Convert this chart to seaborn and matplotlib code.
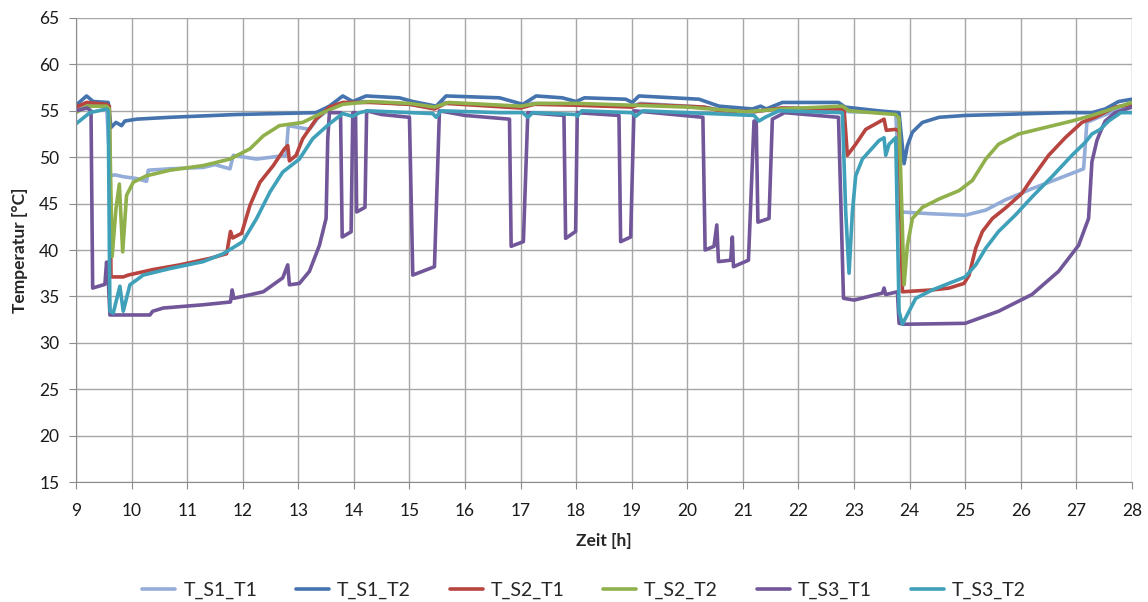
import pandas as pd
import numpy as np
import seaborn as sns
import matplotlib.pyplot as plt

s1_t1 = [(9.0, 55.2), (9.2, 55.8), (9.55, 55.6), (9.62, 48.0), (9.7, 48.1), (9.85, 47.9),
         (10.09, 47.7), (10.27, 47.4), (10.3, 48.6), (10.69, 48.75), (11.29, 48.9), (11.5, 49.2),
         (11.77, 48.75), (11.83, 50.2), (12.25, 49.8), (12.78, 50.2), (12.82, 53.4), (13.2, 53.0),
         (13.35, 54.2), (13.56, 55.2), (13.8, 55.8), (14.2, 56.0), (15.0, 55.7), (15.45, 55.3),
         (15.6, 55.9), (17.0, 55.4), (17.2, 55.8), (18.0, 55.7), (19.0, 55.5), (19.15, 55.8),
         (20.3, 55.4), (20.6, 55.1), (21.2, 54.9), (21.7, 55.3), (22.8, 55.1), (22.9, 54.9),
         (23.75, 54.8), (23.84, 44.1), (24.41, 43.9), (25.0, 43.75), (25.37, 44.3), (25.72, 45.4),
         (26.2, 46.6), (26.68, 47.7), (27.13, 48.75), (27.19, 53.75), (27.4, 54.3), (27.7, 55.0),
         (28.0, 55.6)]

s1_t2 = [(9.0, 55.6), (9.19, 56.6), (9.31, 56.0), (9.58, 55.9), (9.63, 53.2), (9.72, 53.75),
         (9.82, 53.4), (9.88, 53.9), (10.09, 54.1), (10.69, 54.3), (11.89, 54.6), (13.32, 54.8),
         (13.56, 55.5), (13.8, 56.6), (13.98, 56.0), (14.22, 56.6), (14.82, 56.4), (15.06, 56.0),
         (15.48, 55.5), (15.66, 56.6), (16.62, 56.4), (17.04, 55.7), (17.28, 56.6), (17.75, 56.4),
         (18.0, 56.0), (18.15, 56.4), (18.89, 56.25), (19.01, 55.9), (19.13, 56.6), (20.21, 56.25),
         (20.57, 55.5), (21.17, 55.2), (21.32, 55.5), (21.42, 55.2), (21.71, 55.9), (22.72, 55.9),
         (22.84, 55.4), (23.44, 55.0), (23.81, 54.8), (23.9, 49.3), (23.96, 51.25), (24.05, 52.7),
         (24.23, 53.75), (24.53, 54.3), (25.0, 54.5), (26.8, 54.8), (27.28, 54.8), (27.52, 55.2),
         (27.76, 56.0), (28.0, 56.25)]

s2_t1 = [(9.0, 55.4), (9.19, 55.9), (9.55, 55.7), (9.6, 55.5), (9.63, 37.1), (9.85, 37.1),
         (9.94, 37.3), (10.39, 37.9), (10.87, 38.4), (11.41, 39.1), (11.71, 39.6), (11.78, 42.0),
         (11.82, 41.3), (11.98, 41.8), (12.13, 44.8), (12.31, 47.3), (12.55, 49.1), (12.75, 50.9),
         (12.81, 51.25), (12.84, 49.6), (12.96, 50.2), (13.08, 52.0), (13.32, 54.1), (13.56, 55.4),
         (13.8, 55.9), (14.3, 55.9), (15.0, 55.7), (15.45, 55.2), (15.65, 55.8), (17.0, 55.3),
         (17.25, 55.7), (18.0, 55.6), (19.0, 55.4), (19.15, 55.7), (20.3, 55.4), (20.6, 55.0),
         (21.2, 54.9), (21.7, 55.3), (22.82, 55.2), (22.88, 50.2), (23.03, 51.4), (23.21, 53.0),
         (23.54, 54.1), (23.58, 52.9), (23.75, 53.0), (23.81, 52.8), (23.87, 35.5), (24.41, 35.7),
         (24.71, 35.9), (24.98, 36.4), (25.07, 37.3), (25.19, 40.2), (25.31, 42.0), (25.49, 43.4),
         (25.72, 44.5), (26.02, 46.1), (26.2, 47.7), (26.5, 50.2), (26.8, 52.1), (27.1, 53.75),
         (27.34, 54.3), (27.7, 55.4), (28.0, 55.7)]

s2_t2 = [(9.0, 54.8), (9.19, 55.5), (9.55, 55.5), (9.6, 55.2), (9.65, 39.3), (9.72, 44.5),
         (9.78, 47.1), (9.84, 39.8), (9.91, 45.9), (10.03, 47.3), (10.27, 48.0), (10.69, 48.6),
         (11.29, 49.1), (11.77, 49.8), (12.13, 50.9), (12.37, 52.3), (12.66, 53.4), (13.08, 53.75),
         (13.44, 54.8), (13.8, 55.7), (14.3, 56.0), (15.0, 55.8), (15.45, 55.4), (15.7, 55.9),
         (17.0, 55.5), (17.3, 55.8), (18.0, 55.8), (19.0, 55.6), (20.0, 55.4), (21.05, 54.9),
         (21.7, 55.2), (22.79, 55.5), (22.91, 55.0), (23.75, 54.6), (23.81, 54.2), (23.9, 36.25),
         (23.96, 40.5), (24.05, 43.4), (24.23, 44.6), (24.53, 45.5), (24.89, 46.4), (25.13, 47.5),
         (25.37, 49.8), (25.6, 51.4), (25.96, 52.5), (26.44, 53.2), (26.92, 53.9), (27.28, 54.5),
         (27.64, 55.2), (28.0, 55.9)]

s3_t1 = [(9.0, 55.0), (9.2, 55.3), (9.27, 55.0), (9.3, 35.9), (9.52, 36.3), (9.55, 38.7),
         (9.58, 37.0), (9.61, 33.0), (10.33, 33.0), (10.38, 33.4), (10.57, 33.75), (11.29, 34.1),
         (11.78, 34.4), (11.81, 35.7), (11.84, 34.8), (12.0, 35.0), (12.37, 35.5), (12.72, 37.0),
         (12.81, 38.4), (12.84, 36.25), (13.02, 36.4), (13.2, 37.7), (13.38, 40.5), (13.5, 43.4),
         (13.53, 52.0), (13.56, 54.8), (13.76, 54.8), (13.79, 41.4), (13.95, 41.96), (13.98, 54.8),
         (14.03, 54.8), (14.05, 44.1), (14.2, 44.6), (14.23, 55.0), (14.5, 54.6), (15.0, 54.3),
         (15.06, 37.3), (15.45, 38.2), (15.54, 55.0), (16.0, 54.5), (16.8, 54.1), (16.83, 40.4),
         (17.05, 40.9), (17.13, 54.8), (17.78, 54.5), (17.81, 41.25), (17.99, 42.0), (18.02, 54.8),
         (18.77, 54.5), (18.8, 40.9), (18.98, 41.4), (19.04, 55.0), (20.28, 54.3), (20.32, 40.0),
         (20.48, 40.4), (20.53, 42.7), (20.56, 38.75), (20.78, 38.9), (20.81, 41.4), (20.83, 38.2),
         (21.1, 38.9), (21.2, 53.9), (21.24, 53.9), (21.27, 43.0), (21.47, 43.4), (21.53, 54.1),
         (21.75, 54.8), (22.72, 54.3), (22.81, 34.8), (23.0, 34.6), (23.51, 35.36), (23.54, 35.9),
         (23.57, 35.2), (23.78, 35.5), (23.81, 32.1), (23.9, 32.0), (25.0, 32.1), (25.6, 33.4),
         (26.2, 35.2), (26.68, 37.7), (27.04, 40.5), (27.22, 43.4), (27.28, 49.5), (27.37, 51.8),
         (27.43, 52.7), (27.52, 53.9), (27.7, 54.8), (28.0, 55.4)]

s3_t2 = [(9.0, 53.6), (9.25, 54.8), (9.55, 55.2), (9.58, 55.0), (9.61, 33.4), (9.67, 33.2),
         (9.79, 36.1), (9.85, 33.4), (9.97, 36.25), (10.21, 37.3), (10.69, 38.0), (11.29, 38.75),
         (11.65, 39.6), (12.0, 40.9), (12.25, 43.4), (12.49, 46.25), (12.72, 48.4), (13.02, 49.8),
         (13.26, 52.0), (13.56, 53.6), (13.8, 54.7), (13.98, 54.4), (14.1, 54.8), (14.25, 55.0),
         (15.42, 54.7), (15.48, 54.3), (15.57, 55.0), (16.62, 54.8), (17.04, 54.8), (17.13, 54.3),
         (17.22, 54.8), (18.0, 54.6), (18.02, 54.4), (18.1, 55.0), (19.0, 54.8), (19.07, 54.4),
         (19.2, 55.0), (20.8, 54.6), (21.2, 54.5), (21.29, 53.9), (21.4, 54.3), (21.65, 55.0),
         (22.79, 54.8), (22.85, 44.1), (22.91, 37.5), (22.97, 44.1), (23.03, 48.0), (23.15, 49.8),
         (23.45, 51.8), (23.54, 52.1), (23.57, 50.2), (23.63, 51.4), (23.75, 52.1), (23.81, 33.4),
         (23.87, 32.0), (23.99, 33.4), (24.11, 34.8), (24.41, 35.7), (25.0, 37.1), (25.19, 38.4),
         (25.37, 40.2), (25.6, 42.0), (25.9, 43.75), (26.2, 45.7), (26.56, 47.9), (26.92, 50.2),
         (27.16, 51.6), (27.28, 52.5), (27.43, 53.0), (27.58, 53.9), (27.8, 54.8), (28.0, 54.8)]

series_names = ['T_S1_T1', 'T_S1_T2', 'T_S2_T1', 'T_S2_T2', 'T_S3_T1', 'T_S3_T2']
colors = ['#93ADD8', '#4573AE', '#B8443F', '#8FB04B', '#71579A', '#3FA0BA']
x_ticks = list(range(9, 29))
y_ticks = list(range(15, 70, 5))

# --- Tabelle im Langformat ---
frames = []
for name, pts in zip(series_names, [s1_t1, s1_t2, s2_t1, s2_t2, s3_t1, s3_t2]):
    d = pd.DataFrame(pts, columns=['Zeit', 'Temperatur'])
    d['Sensor'] = name
    frames.append(d)
df = pd.concat(frames, ignore_index=True)

sns.set_style('white')
plt.rcParams['font.family'] = ['Lato', 'DejaVu Sans']

fig = plt.figure(figsize=(11.48, 6.02), dpi=100)
ax = fig.add_axes([0.0662, 0.1993, 0.9198, 0.7708])

sns.lineplot(data=df, x='Zeit', y='Temperatur', hue='Sensor', hue_order=series_names,
             palette=colors, estimator=None, sort=False, linewidth=2.6, ax=ax)

ax.set_xlim(9, 28)
ax.set_ylim(15, 65)
ax.set_xticks(x_ticks)
ax.set_yticks(y_ticks)
ax.grid(True, color='#A6A6A6', linewidth=1.0)
ax.set_axisbelow(True)
for s in ['top', 'right']:
    ax.spines[s].set_visible(False)
for s in ['left', 'bottom']:
    ax.spines[s].set_color('#8C8C8C')
ax.tick_params(axis='both', direction='out', length=5, color='#8C8C8C', labelsize=12.5,
               labelcolor='#1a1a1a', left=True, bottom=True)
ax.tick_params(axis='x', pad=10)
ax.tick_params(axis='y', pad=7)

ax.set_xlabel('Zeit [h]', fontsize=12.5, fontweight='bold', labelpad=10)
ax.set_ylabel('Temperatur [°C]', fontsize=12.5, fontweight='bold', labelpad=8)

ax.legend(loc='center', bbox_to_anchor=(0.481, -0.233), ncol=6, frameon=False,
          fontsize=14, handlelength=1.7, columnspacing=2.0, handletextpad=0.4)

plt.savefig('out.png', dpi=100)
